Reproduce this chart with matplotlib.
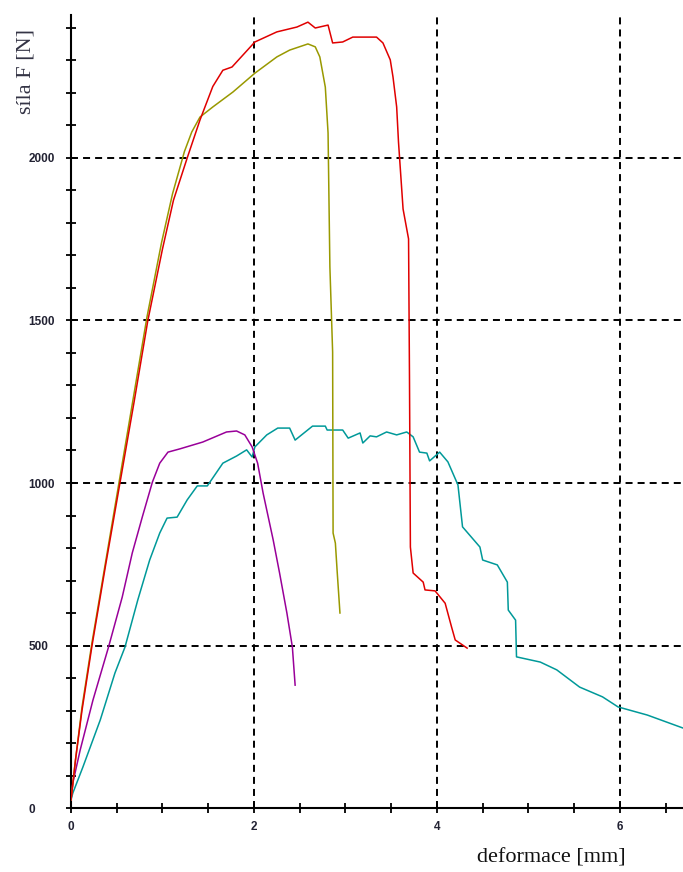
import matplotlib
matplotlib.use('Agg')
import matplotlib.pyplot as plt
from matplotlib.ticker import MultipleLocator

# deformace [mm] / sila [N] for the four specimens
red_x = [0, 0.05, 0.12, 0.23, 0.38, 0.535, 0.69, 0.84, 1.0, 1.12, 1.27, 1.41, 1.55, 1.66, 1.76, 2.01, 2.25,
         2.47, 2.59, 2.67, 2.81, 2.86, 2.97, 3.08, 3.34, 3.41, 3.49, 3.52, 3.56, 3.58, 3.63, 3.69, 3.70, 3.71,
         3.74, 3.85, 3.87, 3.98, 4.09, 4.16, 4.20, 4.33]
red_y = [25, 150, 300, 500, 750, 1000, 1250, 1500, 1720, 1870, 2000, 2117, 2220, 2270, 2280, 2357, 2388,
         2403, 2418, 2400, 2409, 2354, 2357, 2372, 2372, 2354, 2302, 2249, 2157, 2049, 1843, 1751, 1329, 803,
         723, 695, 671, 668, 630, 557, 517, 492]

olive_x = [0, 0.05, 0.12, 0.23, 0.38, 0.53, 0.68, 0.83, 0.99, 1.11, 1.24, 1.32, 1.41, 1.55, 1.77, 2.01, 2.25,
           2.39, 2.59, 2.67, 2.72, 2.78, 2.81, 2.83, 2.86, 2.865, 2.89, 2.91, 2.94]
olive_y = [25, 150, 310, 510, 760, 1010, 1260, 1510, 1740, 1890, 2020, 2080, 2126, 2157, 2203, 2261, 2311,
           2332, 2351, 2342, 2311, 2218, 2077, 1665, 1403, 846, 815, 726, 600]

purple_x = [0, 0.02, 0.1, 0.24, 0.41, 0.56, 0.67, 0.78, 0.89, 0.97, 1.06, 1.19, 1.44, 1.70, 1.81, 1.90, 1.98,
            2.04, 2.10, 2.21, 2.28, 2.36, 2.42, 2.45]
purple_y = [25, 77, 178, 332, 495, 649, 785, 896, 1003, 1061, 1095, 1105, 1126, 1157, 1160, 1148, 1111,
            1061, 969, 825, 723, 600, 495, 378]

teal_x = [0, 0.02, 0.13, 0.32, 0.48, 0.59, 0.73, 0.86, 0.97, 1.05, 1.16, 1.27, 1.38, 1.49, 1.66, 1.81, 1.92,
          1.98, 2.01, 2.14, 2.26, 2.39, 2.45, 2.64, 2.78, 2.80, 2.97, 3.03, 3.16, 3.19, 3.27, 3.34, 3.45, 3.56,
          3.67, 3.74, 3.81, 3.89, 3.92, 4.03, 4.12, 4.23, 4.28, 4.47, 4.50, 4.66, 4.77, 4.78, 4.86, 4.87, 5.13,
          5.31, 5.56, 5.81, 5.98, 6.30, 6.69]
teal_y = [25, 46, 126, 271, 415, 495, 640, 763, 846, 892, 895, 948, 991, 991, 1061, 1083, 1102,
          1080, 1111, 1148, 1169, 1169, 1132, 1175, 1175, 1163, 1163, 1138, 1154, 1123, 1145, 1142, 1157, 1148,
          1157, 1142, 1095, 1092, 1068, 1095, 1065, 994, 865, 803, 763, 748, 695, 609, 578, 465, 449,
          425, 372, 342, 311, 286, 246]

fig = plt.figure(figsize=(6.83, 8.72), dpi=100)
ax = fig.add_axes([71/683, 1-808/872, 1-71/683, (808-15)/872])

grid_style = dict(color='black', lw=1.4, ls=(0, (3.6, 2.6)), zorder=1)
for gx in [2, 4, 6]:
    ax.axvline(gx, **grid_style)
for gy in [500, 1000, 1500, 2000]:
    ax.axhline(gy, **grid_style)

ax.plot(teal_x, teal_y, color='#009999', lw=1.1, zorder=3)
ax.plot(purple_x, purple_y, color='#990099', lw=1.1, zorder=3)
ax.plot(olive_x, olive_y, color='#999900', lw=1.1, zorder=3)
ax.plot(red_x, red_y, color='#e00000', lw=1.1, zorder=4)

ax.set_xlim(0, 6.69)
ax.set_ylim(0, 2440)
ax.xaxis.set_major_locator(MultipleLocator(2))
ax.xaxis.set_minor_locator(MultipleLocator(0.5))
ax.yaxis.set_major_locator(MultipleLocator(500))
ax.yaxis.set_minor_locator(MultipleLocator(100))

for s in ['top', 'right']:
    ax.spines[s].set_visible(False)
for s in ['left', 'bottom']:
    ax.spines[s].set_linewidth(1.5)

ax.tick_params(which='both', direction='inout', length=6.5, width=1.3, color='black')
ax.tick_params(axis='x', which='major', pad=6, labelsize=8.5, labelcolor='#222233')
ax.tick_params(axis='y', which='major', pad=27.5, labelsize=8.5, labelcolor='#222233')
for lab in ax.get_xticklabels() + ax.get_yticklabels():
    lab.set_fontfamily('Liberation Sans')
    lab.set_fontweight('bold')
for lab in ax.get_yticklabels():
    lab.set_ha('left')

fig.text(26/683, 1-71/872, 'síla F [N]', rotation=90, ha='center', va='center',
         family='Liberation Serif', fontsize=16, color='#333344')
fig.text(551/683, 1-858/872, 'deformace [mm]', ha='center', va='center',
         family='Liberation Serif', fontsize=16, color='#111111')

fig.savefig('out.png', dpi=100)
